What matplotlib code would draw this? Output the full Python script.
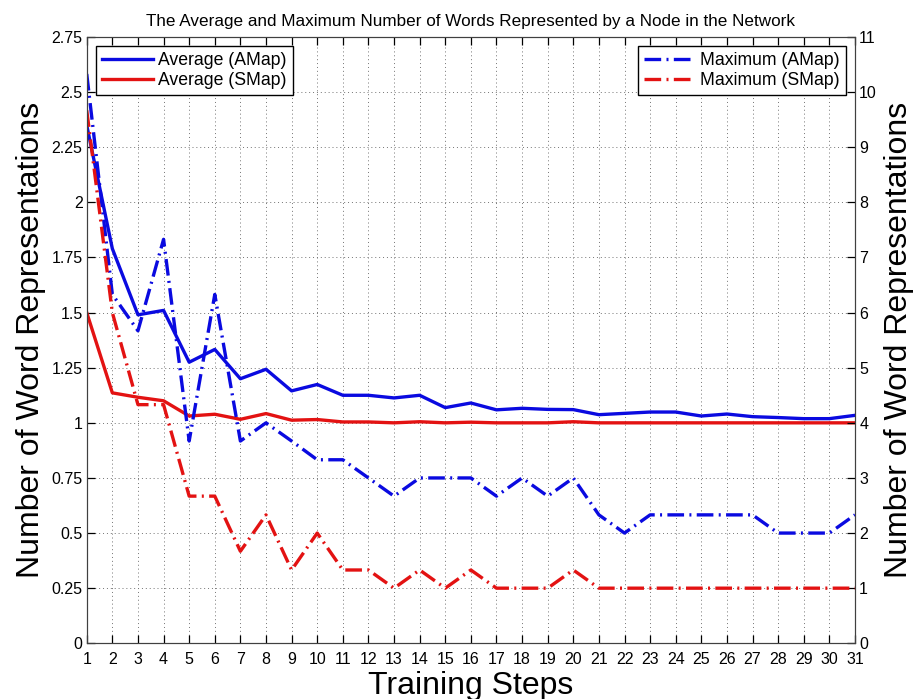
import matplotlib
matplotlib.use('Agg')
import matplotlib.pyplot as plt

plt.rcParams['font.family'] = ['Liberation Sans', 'DejaVu Sans']

# training steps
steps = list(range(1, 32))

# average number of words per node (left axis)
avg_amap = [2.35, 1.79, 1.49, 1.51, 1.275, 1.333, 1.20, 1.243, 1.145, 1.174,
            1.125, 1.125, 1.113, 1.125, 1.069, 1.09, 1.059, 1.066, 1.061, 1.06,
            1.037, 1.043, 1.049, 1.049, 1.031, 1.04, 1.028, 1.024, 1.019, 1.019,
            1.034]
avg_smap = [1.5, 1.136, 1.116, 1.10, 1.031, 1.039, 1.016, 1.042, 1.012, 1.015,
            1.004, 1.004, 1.0, 1.005, 1.0, 1.003, 1.0, 1.0, 1.0, 1.005,
            1.0, 1.0, 1.0, 1.0, 1.0, 1.0, 1.0, 1.0, 1.0, 1.0,
            1.0]

# maximum number of words per node (right axis)
max_amap = [10.33, 6.33, 5.67, 7.33, 3.67, 6.33, 3.67, 4.0, 3.67, 3.33,
            3.33, 3.0, 2.67, 3.0, 3.0, 3.0, 2.67, 3.0, 2.67, 3.0,
            2.33, 2.0, 2.33, 2.33, 2.33, 2.33, 2.33, 2.0, 2.0, 2.0,
            2.33]
max_smap = [9.67, 6.0, 4.33, 4.33, 2.67, 2.67, 1.67, 2.33, 1.33, 2.0,
            1.33, 1.33, 1.0, 1.33, 1.0, 1.33, 1.0, 1.0, 1.0, 1.33,
            1.0, 1.0, 1.0, 1.0, 1.0, 1.0, 1.0, 1.0, 1.0, 1.0,
            1.0]

left_ticks = [0, 0.25, 0.5, 0.75, 1, 1.25, 1.5, 1.75, 2, 2.25, 2.5, 2.75]
left_labels = ['0', '0.25', '0.5', '0.75', '1', '1.25', '1.5', '1.75', '2', '2.25', '2.5', '2.75']
right_ticks = list(range(0, 12))

BLUE = '#0a0ae0'
RED = '#e31212'
dashdot = (0, (5, 1.6, 0.6, 1.6))

fig = plt.figure(figsize=(9.15, 6.99), dpi=100)
ax = fig.add_axes([0.0948, 0.0797, 0.8396, 0.8673])
ax2 = ax.twinx()

ax.plot(steps, avg_amap, color=BLUE, lw=2.4, label='Average (AMap)')
ax.plot(steps, avg_smap, color=RED, lw=2.4, label='Average (SMap)')
ax2.plot(steps, max_amap, color=BLUE, lw=2.4, linestyle=dashdot, label='Maximum (AMap)')
ax2.plot(steps, max_smap, color=RED, lw=2.4, linestyle=dashdot, label='Maximum (SMap)')

ax.set_xlim(1, 31)
ax.set_ylim(0, 2.75)
ax2.set_ylim(0, 11)
ax.set_xticks(steps)
ax.set_yticks(left_ticks)
ax.set_yticklabels(left_labels)
ax2.set_yticks(right_ticks)

ax.grid(True, color='0.45', linestyle=(0, (1, 3)), lw=0.7)
ax.tick_params(direction='in', length=6, width=0.9, labelsize=11.5, top=True, right=False, pad=3)
ax.tick_params(axis='x', pad=6)
ax2.tick_params(direction='in', length=6, width=0.9, labelsize=11.5, pad=3)
for a in (ax, ax2):
    for s in a.spines.values():
        s.set_color('0.25')

ax.set_xlabel('Training Steps', fontsize=23, labelpad=3)
ax.set_ylabel('Number of Word Representations', fontsize=23, labelpad=4)
ax2.set_ylabel('Number of Word Representations', fontsize=23, labelpad=5)
ax.set_title('The Average and Maximum Number of Words Represented by a Node in the Network',
             fontsize=12.3, pad=8)

leg_kw = dict(fontsize=12.7, fancybox=False, framealpha=1, borderaxespad=0.5,
              handlelength=2.9, handletextpad=0.3, borderpad=0.35, labelspacing=0.15)
leg1 = ax.legend(loc='upper left', **leg_kw)
leg1.get_frame().set_edgecolor('black')
leg2 = ax2.legend(loc='upper right', **leg_kw)
leg2.get_frame().set_edgecolor('black')

fig.savefig('out.png', dpi=100)
